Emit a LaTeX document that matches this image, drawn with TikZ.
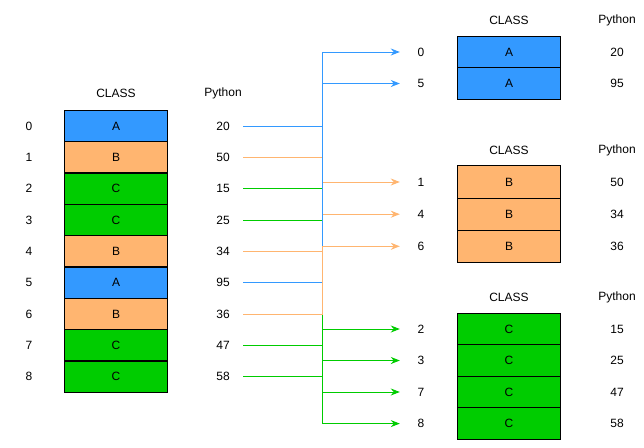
\documentclass[tikz,border=0pt]{standalone}
\usepackage{fontspec}
\setmainfont{Liberation Sans}
\usetikzlibrary{arrows.meta}

\definecolor{clsA}{HTML}{3399FF}
\definecolor{clsB}{HTML}{FFB570}
\definecolor{clsC}{HTML}{00CC00}

\begin{document}
\begin{tikzpicture}[
    x = 1pt, y = -1pt,
    every node/.style = {font = \fontsize{12}{14}\selectfont, inner sep = 0pt},
    cell/.style = {draw, line width = 1pt, minimum width = 103pt},
    num/.style = {minimum width = 40pt},
    idx/.style = {minimum width = 42pt},
    link/.style = {line width = 1pt, -{Stealth[length = 9pt, width = 7pt]}}]

\useasboundingbox (0,0) rectangle (644,447);

% original table
\path (116,93) node(hdL) {CLASS}
      (223,93) node(hdLv) {Python}
      (29,126)    node(i0) {0}
      (29,157.3)  node(i1) {1}
      (29,188.7)  node(i2) {2}
      (29,220)    node(i3) {3}
      (29,251.3)  node(i4) {4}
      (29,282.7)  node(i5) {5}
      (29,314)    node(i6) {6}
      (29,345.3)  node(i7) {7}
      (29,376.7)  node(i8) {8}
      (116,126)   node[cell, fill = clsA, minimum height = 31.3pt](c0) {A}
      (116,157.3) node[cell, fill = clsB, minimum height = 31.3pt](c1) {B}
      (116,188.7) node[cell, fill = clsC, minimum height = 31.3pt](c2) {C}
      (116,220)   node[cell, fill = clsC, minimum height = 31.3pt](c3) {C}
      (116,251.3) node[cell, fill = clsB, minimum height = 31.3pt](c4) {B}
      (116,282.7) node[cell, fill = clsA, minimum height = 31.3pt](c5) {A}
      (116,314)   node[cell, fill = clsB, minimum height = 31.3pt](c6) {B}
      (116,345.3) node[cell, fill = clsC, minimum height = 31.3pt](c7) {C}
      (116,376.7) node[cell, fill = clsC, minimum height = 31.3pt](c8) {C}
      (223,126)   node[num](v0) {20}
      (223,157.3) node[num](v1) {50}
      (223,188.7) node[num](v2) {15}
      (223,220)   node[num](v3) {25}
      (223,251.3) node[num](v4) {34}
      (223,282.7) node[num](v5) {95}
      (223,314)   node[num](v6) {36}
      (223,345.3) node[num](v7) {47}
      (223,376.7) node[num](v8) {58}
      ;

% group A
\path (509,20) node(hdA) {CLASS}
      (617,20) node(hdAv) {Python}
      (421,52)   node[idx](t0) {0}
      (421,83.5) node[idx](t5) {5}
      (509,52)   node[cell, fill = clsA, minimum height = 31.6pt](g0) {A}
      (509,83.5) node[cell, fill = clsA, minimum height = 31.6pt](g5) {A}
      (617,52)   node(w0) {20}
      (617,83.5) node(w5) {95}
      ;

% group B
\path (509,150) node(hdB) {CLASS}
      (617,150) node(hdBv) {Python}
      (421,182)   node[idx](t1) {1}
      (421,214.2) node[idx](t4) {4}
      (421,246.3) node[idx](t6) {6}
      (509,182)   node[cell, fill = clsB, minimum height = 32.1pt](g1) {B}
      (509,214.2) node[cell, fill = clsB, minimum height = 32.1pt](g4) {B}
      (509,246.3) node[cell, fill = clsB, minimum height = 32.1pt](g6) {B}
      (617,182)   node(w1) {50}
      (617,214.2) node(w4) {34}
      (617,246.3) node(w6) {36}
      ;

% group C
\path (509,297) node(hdC) {CLASS}
      (617,297) node(hdCv) {Python}
      (421,329)   node[idx](t2) {2}
      (421,360.5) node[idx](t3) {3}
      (421,392)   node[idx](t7) {7}
      (421,423.6) node[idx](t8) {8}
      (509,329)   node[cell, fill = clsC, minimum height = 31.5pt](g2) {C}
      (509,360.5) node[cell, fill = clsC, minimum height = 31.5pt](g3) {C}
      (509,392)   node[cell, fill = clsC, minimum height = 31.5pt](g7) {C}
      (509,423.6) node[cell, fill = clsC, minimum height = 31.5pt](g8) {C}
      (617,329)   node(w2) {15}
      (617,360.5) node(w3) {25}
      (617,392)   node(w7) {47}
      (617,423.6) node(w8) {58}
      ;

\coordinate (bus) at (322,0);

% grouping links, drawn in this order so the bus shows the right colour
\draw[link, clsC] (v2.east) -- (v2.east -| bus) |- (t2.west);
\draw[link, clsC] (v3.east) -- (v3.east -| bus) |- (t3.west);
\draw[link, clsC] (v7.east) -- (v7.east -| bus) |- (t7.west);
\draw[link, clsC] (v8.east) -- (v8.east -| bus) |- (t8.west);
\draw[link, clsB] (v1.east) -- (v1.east -| bus) |- (t1.west);
\draw[link, clsB] (v4.east) -- (v4.east -| bus) |- (t4.west);
\draw[link, clsA] (v0.east) -- (v0.east -| bus) |- (t0.west);
\draw[link, clsA] (v5.east) -- (v5.east -| bus) |- (t5.west);
\draw[link, clsB] (v6.east) -- (v6.east -| bus) |- (t6.west);
\end{tikzpicture}
\end{document}
